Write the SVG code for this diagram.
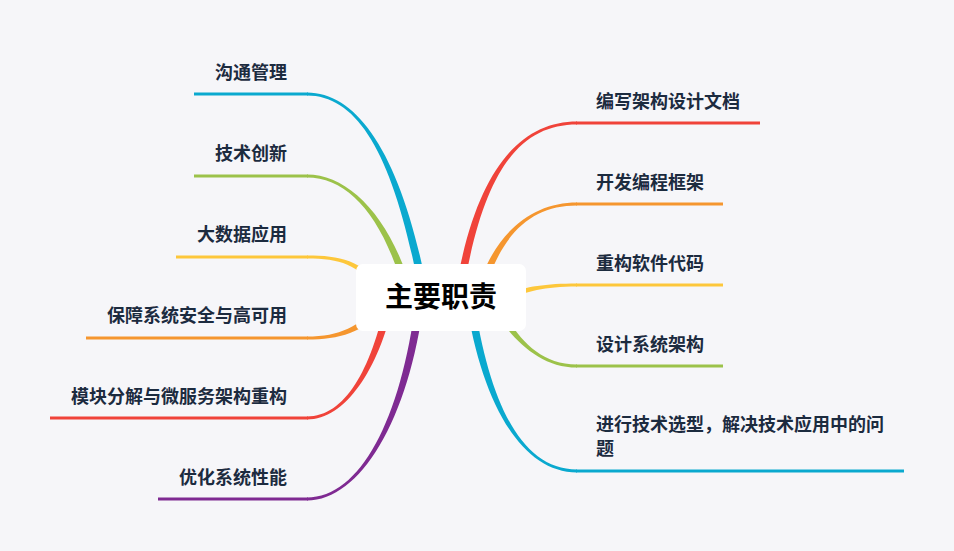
<svg xmlns="http://www.w3.org/2000/svg" width="954" height="551" viewBox="0 0 954 551">
<style>
.lbl{font-family:"Noto Sans CJK SC","Noto Sans",sans-serif;font-size:18px;font-weight:600;fill:#1c2b3f}
.l{text-anchor:end}
.root{font-family:"Noto Sans CJK SC","Noto Sans",sans-serif;font-size:28px;font-weight:bold;fill:#000;text-anchor:middle}
.ln{stroke-width:3;fill:none}
.cy{fill:#0aa9cf;stroke:#0aa9cf}.gr{fill:#9cc24a;stroke:#9cc24a}.ye{fill:#fdc73b;stroke:#fdc73b}
.or{fill:#f5962f;stroke:#f5962f}.re{fill:#f0433a;stroke:#f0433a}.pu{fill:#7f2a92;stroke:#7f2a92}
.br{stroke:none}
</style>
<rect width="954" height="551" fill="#f6f6f9"/>
<g id="connectors">
<path class="cy br" d="M429,300 C404,160 360,92.5 307,92.5 L307,95.5 C360,95.5 396,160 421,300 Z"/>
<line class="cy ln" x1="194" y1="94" x2="308" y2="94"/>
<path class="gr br" d="M414,300 C394,220 350,174.5 307,174.5 L307,177.5 C350,177.5 386,220 406,300 Z"/>
<line class="gr ln" x1="194" y1="176" x2="308" y2="176"/>
<path class="ye br" d="M382,288 C362,260 340,255.5 307,255.5 L307,258.5 C340,258.5 358,264 378,292 Z"/>
<line class="ye ln" x1="176" y1="257" x2="308" y2="257"/>
<path class="or br" d="M387.5,307.5 C362,333 340,339.5 307,339.5 L307,336.5 C340,336.5 358,327 382.5,302.5 Z"/>
<line class="or ln" x1="86" y1="338" x2="308" y2="338"/>
<path class="re br" d="M394,300 C379,370 345,419.5 307,419.5 L307,416.5 C345,416.5 371,370 386,300 Z"/>
<line class="re ln" x1="50" y1="418" x2="308" y2="418"/>
<path class="pu br" d="M424,300 C409,420 360,500.5 307,500.5 L307,497.5 C360,497.5 401,420 416,300 Z"/>
<line class="pu ln" x1="158" y1="499" x2="308" y2="499"/>
<path class="re br" d="M454,300 C474,170 520,121.5 577,121.5 L577,124.5 C520,124.5 482,170 462,300 Z"/>
<line class="re ln" x1="576" y1="123" x2="760" y2="123"/>
<path class="or br" d="M474,300 C491,235 530,202.5 577,202.5 L577,205.5 C530,205.5 499,235 482,300 Z"/>
<line class="or ln" x1="576" y1="204" x2="723" y2="204"/>
<path class="ye br" d="M499,297 C519,288 540,283.5 577,283.5 L577,286.5 C540,286.5 521,293 501,303 Z"/>
<line class="ye ln" x1="576" y1="285" x2="723" y2="285"/>
<path class="gr br" d="M488,300 C506,332 535,367.5 577,367.5 L577,364.5 C535,364.5 514,332 496,300 Z"/>
<line class="gr ln" x1="576" y1="366" x2="723" y2="366"/>
<path class="cy br" d="M466,300 C481,400 520,472.5 577,472.5 L577,469.5 C520,469.5 489,400 474,300 Z"/>
<line class="cy ln" x1="576" y1="471" x2="904" y2="471"/>
</g>
<g id="root">
<rect x="356" y="264" width="170" height="67" rx="7" fill="#fff"/>
<text class="root" x="441" y="307">主要职责</text>
</g>
<g id="n-l1"><text class="lbl l" x="287" y="79">沟通管理</text></g>
<g id="n-l2"><text class="lbl l" x="287" y="160">技术创新</text></g>
<g id="n-l3"><text class="lbl l" x="287" y="241">大数据应用</text></g>
<g id="n-l4"><text class="lbl l" x="287" y="322">保障系统安全与高可用</text></g>
<g id="n-l5"><text class="lbl l" x="287" y="403">模块分解与微服务架构重构</text></g>
<g id="n-l6"><text class="lbl l" x="287" y="484">优化系统性能</text></g>
<g id="n-r1"><text class="lbl" x="596" y="108">编写架构设计文档</text></g>
<g id="n-r2"><text class="lbl" x="596" y="189">开发编程框架</text></g>
<g id="n-r3"><text class="lbl" x="596" y="270">重构软件代码</text></g>
<g id="n-r4"><text class="lbl" x="596" y="351">设计系统架构</text></g>
<g id="n-r5"><text class="lbl" x="596" y="431">进行技术选型，解决技术应用中的问</text><text class="lbl" x="596" y="455">题</text></g>
</svg>
